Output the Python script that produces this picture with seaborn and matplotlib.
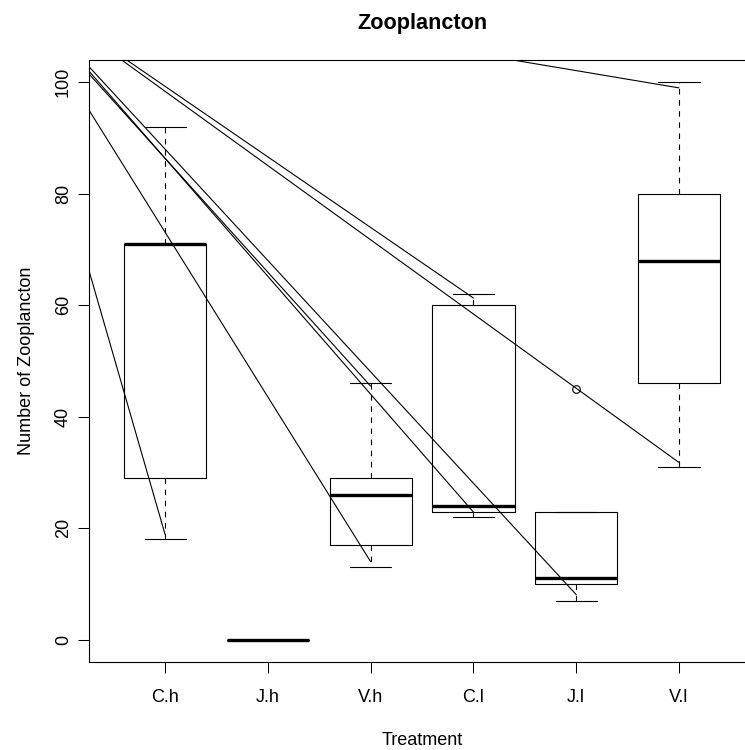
import matplotlib
matplotlib.use("Agg")
import matplotlib.pyplot as plt
import seaborn as sns
import pandas as pd

# ---- data ----
treatments = ["C.h", "J.h", "V.h", "C.l", "J.l", "V.l"]
counts_Ch = [18, 29, 71, 71, 92]
counts_Jh = [0, 0, 0, 0, 0]
counts_Vh = [13, 17, 26, 29, 46]
counts_Cl = [22, 23, 24, 60, 62]
counts_Jl = [7, 10, 11, 23, 45]
counts_Vl = [31, 46, 68, 80, 100]

# straight lines drawn over the boxes (treatment position 1..6, value)
line_start_pos = [0.26, 0.26, 0.26, 0.26, 0.26, 0.627, 0.578, 4.385]
line_start_val = [66.2, 95.0, 101.5, 102.0, 102.8, 104.0, 104.0, 104.0]
line_end_pos = [1, 3, 3, 4, 5, 4, 6, 6]
line_end_val = [18.9, 14.0, 45.5, 22.9, 8.1, 61.3, 31.8, 99.0]

yticks = [0, 20, 40, 60, 80, 100]

# ---- build table ----
groups = [counts_Ch, counts_Jh, counts_Vh, counts_Cl, counts_Jl, counts_Vl]
rows = []
for t, vals in zip(treatments, groups):
    for v in vals:
        rows.append({"Treatment": t, "Count": v})
df = pd.DataFrame(rows)

sns.set_theme(style="ticks")
plt.rcParams["font.family"] = ["Liberation Sans", "DejaVu Sans"]

W, H = 745, 750
fig = plt.figure(figsize=(W / 100, H / 100), dpi=100)
ax = fig.add_axes([89 / W, (H - 662) / H, 666 / W, 602 / H])

sns.boxplot(
    data=df, x="Treatment", y="Count", order=treatments,
    fill=False, color="black", width=0.8, linewidth=0.8, whis=1.5,
    medianprops=dict(linewidth=2.4, color="black"),
    whiskerprops=dict(linestyle=(0, (5, 5)), color="black"),
    capprops=dict(color="black"),
    boxprops=dict(color="black"),
    flierprops=dict(marker="o", markersize=5.5, markerfacecolor="none",
                    markeredgecolor="black", markeredgewidth=0.8),
    ax=ax,
)

for x0, y0, x1, y1 in zip(line_start_pos, line_start_val, line_end_pos, line_end_val):
    ax.plot([x0 - 1, x1 - 1], [y0, y1], color="black", lw=0.8, zorder=5)

ax.set_xlim(0.26 - 1, 6.74 - 1)
ax.set_ylim(-4, 104)
ax.set_yticks(yticks)
ax.set_yticklabels([str(v) for v in yticks])
ax.set_xticks(range(len(treatments)))
ax.set_xticklabels(treatments)

for s in ax.spines.values():
    s.set_visible(True)
    s.set_color("black")
    s.set_linewidth(0.8)
ax.set_facecolor("white")
ax.grid(False)

ax.tick_params(axis="both", labelsize=13, length=8, width=0.75,
               direction="out", color="black", labelcolor="black")
ax.tick_params(axis="x", pad=11.5)
ax.tick_params(axis="y", pad=4.3)
plt.setp(ax.get_yticklabels(), rotation=90, va="center")

ax.set_xlabel("Treatment", fontsize=13, color="black")
ax.set_ylabel("Number of Zooplancton", fontsize=13, color="black")
ax.xaxis.set_label_coords(0.5, (662 - 732) / 602)
ax.yaxis.set_label_coords((35 - 89) / 666, 0.5)

ax.set_title("Zooplancton", fontsize=15.6, fontweight="bold", color="black",
             y=1 + (60 - 29) / 602, va="baseline", pad=0)

fig.savefig("out.png", dpi=100, facecolor="white")
